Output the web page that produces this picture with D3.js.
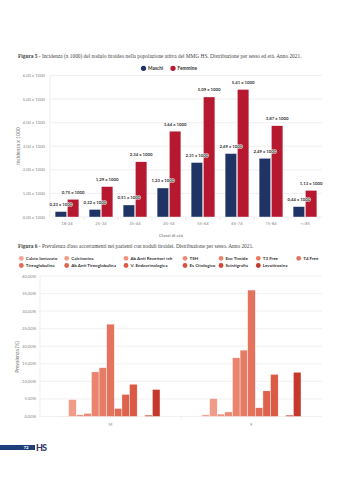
<!DOCTYPE html>
<html lang="it">
<head>
<meta charset="UTF-8" />
<title>Figure 5-6</title>
<script src="https://cdn.jsdelivr.net/npm/d3@7"></script>
<style>
  body { margin: 0; background: #fff; }
  svg { display: block; }
</style>
</head>
<body>
<script>
// --- figura 5 data
const ageClasses = ["18-24", "25-34", "35-44", "45-54", "55-64", "65-74", "75-84", ">=85"];
const maschi = [0.23, 0.32, 0.51, 1.23, 2.31, 2.69, 2.49, 0.44];
const femmine = [0.75, 1.29, 2.34, 3.64, 5.09, 5.41, 3.87, 1.13];
const incTicks = [0, 1, 2, 3, 4, 5, 6];

// --- figura 6 data
const sexes = ["M", "F"];
const exams = ["Calcio Ionizzato", "Calcitonina", "Ab Anti Recettori tsh", "TSH", "Eco Tiroide",
  "T3 Free", "T4 Free", "Tireoglobulina", "Ab Anti Tireoglobulina", "V. Endocrinologica",
  "Es Citologico", "Scintigrafia", "Levotiroxina"];
const prevM = [0.1, 4.8, 0.5, 0.9, 12.7, 13.9, 26.3, 2.3, 6.3, 9.2, 0, 0.4, 7.7];
const prevF = [0.5, 5.1, 0.7, 1.3, 16.7, 18.9, 36.0, 2.5, 7.3, 12.0, 0, 0.4, 12.6];
const prevTicks = [0, 5, 10, 15, 20, 25, 30, 35, 40];

const examColors = ["#f2a391", "#f09c88", "#ee9480", "#eb8c77", "#e9846f", "#e67c66", "#e4735d",
  "#e16b55", "#de634c", "#da5a44", "#d5523c", "#cf4935", "#c4392c"];

const comma = v => d3.format(".2f")(v).replace(".", ",");
const sans = "Lato, 'Open Sans', sans-serif";
const serif = "'Liberation Serif', 'DejaVu Serif', serif";

const svg = d3.select("body").append("svg").attr("width", 342).attr("height", 480);

// ================= Figura 5 =================
const t1 = svg.append("text").attr("x", 18).attr("y", 58)
  .attr("font-family", serif).attr("font-size", 5.35).attr("fill", "#444");
t1.append("tspan").attr("font-weight", "bold").text("Figura 5");
t1.append("tspan").text(" - Incidenza (x 1000) del nodulo tiroideo nella popolazione attiva del MMG HS. Distribuzione per sesso ed età. Anno 2021.");

const leg1 = [["Maschi", "#1f3464", 143.5], ["Femmine", "#b5182f", 173]];
leg1.forEach(([name, col, x]) => {
  svg.append("circle").attr("cx", x).attr("cy", 68.3).attr("r", 2.6).attr("fill", col);
  svg.append("text").attr("x", x + 4.5).attr("y", 70).attr("font-family", sans)
    .attr("font-weight", "bold").attr("font-size", 4.8).attr("fill", "#333").text(name);
});

const x1 = d3.scaleBand().domain(ageClasses).range([50, 322]).paddingInner(0.3).paddingOuter(0.15);
const x1Band = d3.scaleBand().domain(ageClasses).range([50, 322]);
const sub1 = d3.scaleBand().domain(["M", "F"]).range([0, x1.bandwidth()]).paddingInner(0.06);
const y1 = d3.scaleLinear().domain([0, 6]).range([217, 75.5]);

const g1 = svg.append("g");
g1.selectAll(".grid1").data(incTicks).enter().append("line")
  .attr("x1", 50).attr("x2", 322).attr("y1", d => y1(d)).attr("y2", d => y1(d))
  .attr("stroke", "#e6e6e6").attr("stroke-width", 0.6);
g1.append("line").attr("x1", 50).attr("x2", 50).attr("y1", y1(6)).attr("y2", y1(0))
  .attr("stroke", "#e3e3e3").attr("stroke-width", 0.6);
g1.selectAll(".ytick1").data(incTicks).enter().append("text")
  .attr("x", 45).attr("y", d => y1(d) + 1.5).attr("text-anchor", "end")
  .attr("font-family", sans).attr("font-size", 4.2).attr("fill", "#888")
  .text(d => comma(d) + " x 1000");
g1.selectAll(".xtick1").data(ageClasses.slice(1)).enter().append("line")
  .attr("x1", d => x1Band(d)).attr("x2", d => x1Band(d)).attr("y1", y1(0)).attr("y2", y1(0) + 3)
  .attr("stroke", "#ddd").attr("stroke-width", 0.6);
g1.selectAll(".xlab1").data(ageClasses).enter().append("text")
  .attr("x", d => x1Band(d) + x1Band.bandwidth() / 2).attr("y", 225)
  .attr("text-anchor", "middle").attr("font-family", sans).attr("font-size", 4.2)
  .attr("fill", "#888").text(d => d);

svg.append("text").attr("x", 171).attr("y", 237).attr("text-anchor", "middle")
  .attr("font-family", sans).attr("font-size", 4.6).attr("fill", "#666").text("Classi di età");
svg.append("text").attr("transform", "translate(20,146) rotate(-90)").attr("text-anchor", "middle")
  .attr("font-family", sans).attr("font-size", 5).attr("fill", "#777").text("Incidenza x 1000");

const series1 = [["M", maschi, "#1f3464"], ["F", femmine, "#b5182f"]];
series1.forEach(([key, vals, col]) => {
  g1.selectAll(".bar" + key).data(vals).enter().append("rect")
    .attr("x", (d, i) => x1(ageClasses[i]) + sub1(key))
    .attr("width", sub1.bandwidth())
    .attr("y", d => y1(d)).attr("height", d => y1(0) - y1(d))
    .attr("fill", col).attr("stroke", "#fff").attr("stroke-width", 0.4);
});
series1.forEach(([key, vals]) => {
  g1.selectAll(".lab" + key).data(vals).enter().append("text")
    .attr("x", (d, i) => x1(ageClasses[i]) + sub1(key) + sub1.bandwidth() / 2)
    .attr("y", d => y1(d) - 5.5).attr("text-anchor", "middle")
    .attr("font-family", sans).attr("font-weight", "bold").attr("font-size", 4.3)
    .attr("fill", "#333").attr("stroke", "#fff").attr("stroke-width", 1.2)
    .attr("paint-order", "stroke").text(d => comma(d) + " x 1000");
});

// ================= Figura 6 =================
const t2 = svg.append("text").attr("x", 18).attr("y", 247.5)
  .attr("font-family", serif).attr("font-size", 5.35).attr("fill", "#444");
t2.append("tspan").attr("font-weight", "bold").text("Figura 6");
t2.append("tspan").text(" - Prevalenza d'uso accertamenti nei pazienti con noduli tiroidei. Distribuzione per sesso. Anno 2021.");

const legX = [21.3, 66.7, 126, 185, 221, 258.3, 298.7];
exams.forEach((name, i) => {
  const row = i < 7 ? 0 : 1;
  const cx = legX[row ? i - 7 : i];
  const cy = row ? 265.5 : 258.3;
  svg.append("circle").attr("cx", cx).attr("cy", cy).attr("r", 2.4).attr("fill", examColors[i]);
  svg.append("text").attr("x", cx + 4.5).attr("y", cy + 1.6).attr("font-family", sans)
    .attr("font-weight", "bold").attr("font-size", 4.5).attr("fill", "#333").text(name);
});

const x2 = d3.scaleBand().domain(sexes).range([40, 322]);
const sub2 = d3.scaleBand().domain(exams).range([0, 99]);
const y2 = d3.scaleLinear().domain([0, 40]).range([416.5, 276]);

const g2 = svg.append("g");
g2.selectAll(".grid2").data(prevTicks).enter().append("line")
  .attr("x1", 40).attr("x2", 322).attr("y1", d => y2(d)).attr("y2", d => y2(d))
  .attr("stroke", "#e6e6e6").attr("stroke-width", 0.6);
g2.append("line").attr("x1", 40).attr("x2", 40).attr("y1", y2(40)).attr("y2", y2(0))
  .attr("stroke", "#e3e3e3").attr("stroke-width", 0.6);
g2.selectAll(".ytick2").data(prevTicks).enter().append("text")
  .attr("x", 36).attr("y", d => y2(d) + 1.5).attr("text-anchor", "end")
  .attr("font-family", sans).attr("font-size", 4.2).attr("fill", "#888")
  .text(d => comma(d) + "%");
g2.append("line").attr("x1", x2("F")).attr("x2", x2("F")).attr("y1", y2(0)).attr("y2", y2(0) + 3)
  .attr("stroke", "#ddd").attr("stroke-width", 0.6);
g2.selectAll(".xlab2").data(sexes).enter().append("text")
  .attr("x", d => x2(d) + x2.bandwidth() / 2).attr("y", 426)
  .attr("text-anchor", "middle").attr("font-family", sans).attr("font-size", 4.2)
  .attr("fill", "#888").text(d => d);
svg.append("text").attr("transform", "translate(19,357) rotate(-90)").attr("text-anchor", "middle")
  .attr("font-family", sans).attr("font-size", 5).attr("fill", "#777").text("Prevalenza (%)");

const series2 = [["M", prevM], ["F", prevF]];
series2.forEach(([sex, vals]) => {
  const gx = x2(sex) + (x2.bandwidth() - 99) / 2;
  g2.selectAll(".b" + sex).data(vals).enter().append("rect")
    .attr("x", (d, i) => gx + sub2(exams[i]))
    .attr("width", sub2.bandwidth())
    .attr("y", d => y2(d)).attr("height", d => y2(0) - y2(d))
    .attr("fill", (d, i) => examColors[i]).attr("stroke", "#fff").attr("stroke-width", 0.4);
});

// --- footer
svg.append("rect").attr("x", 0).attr("y", 445).attr("width", 35).attr("height", 5).attr("fill", "#1e3f7a");
svg.append("text").attr("x", 26).attr("y", 449).attr("text-anchor", "middle")
  .attr("font-family", sans).attr("font-weight", "bold").attr("font-size", 4.5)
  .attr("fill", "#fff").text("72");
svg.append("text").attr("x", 36).attr("y", 451).attr("font-family", sans)
  .attr("font-weight", "900").attr("font-size", 9).attr("fill", "#3b3a6e")
  .attr("letter-spacing", -1).text("HS");
</script>
</body>
</html>
